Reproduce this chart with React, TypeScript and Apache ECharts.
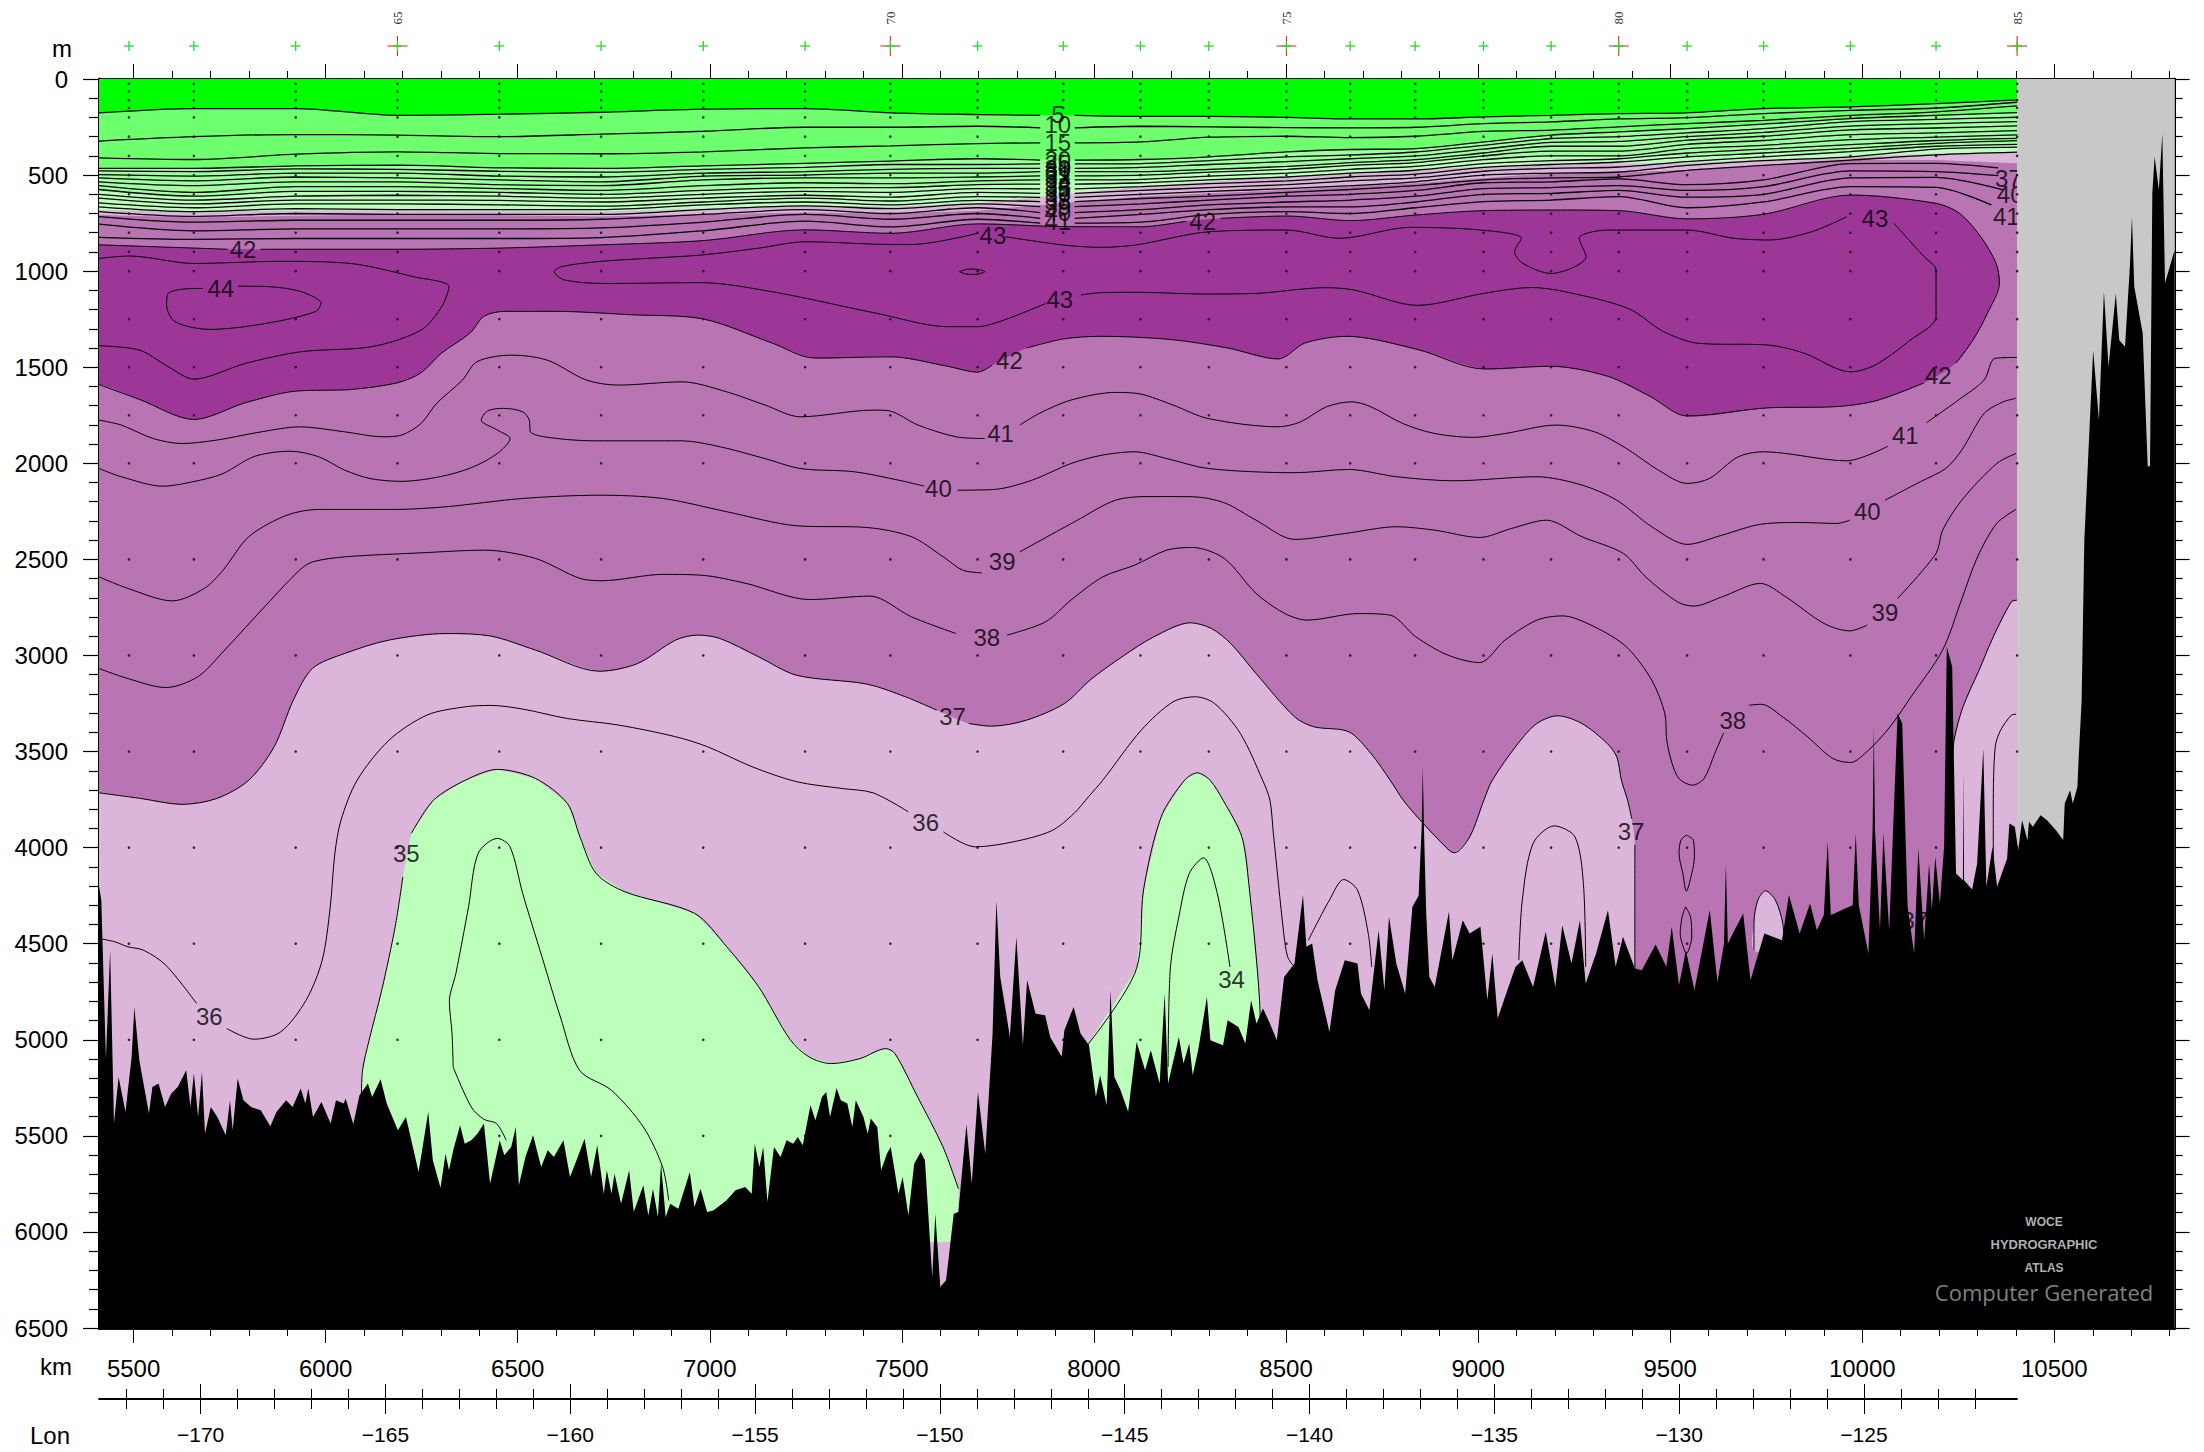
import React, { useEffect, useRef } from "react";
import * as echarts from "echarts";

type P = [number, number] | null;

const KM_MIN = 5410, KM_MAX = 10813, KM_END = 10403;
const FONT = "Liberation Sans";

const kmMajor = [5500, 6000, 6500, 7000, 7500, 8000, 8500, 9000, 9500, 10000, 10500];
const kmMinor = [5500,5600,5700,5800,5900,6000,6100,6200,6300,6400,6500,6600,6700,6800,6900,7000,7100,7200,7300,7400,7500,7600,7700,7800,7900,8000,8100,8200,8300,8400,8500,8600,8700,8800,8900,9000,9100,9200,9300,9400,9500,9600,9700,9800,9900,10000,10100,10200,10300,10400,10500,10600,10700,10800];
const lonMajor = [-170, -165, -160, -155, -150, -145, -140, -135, -130, -125];
const lonMinor = [-172,-171,-170,-169,-168,-167,-166,-165,-164,-163,-162,-161,-160,-159,-158,-157,-156,-155,-154,-153,-152,-151,-150,-149,-148,-147,-146,-145,-144,-143,-142,-141,-140,-139,-138,-137,-136,-135,-134,-133,-132,-131,-130,-129,-128,-127,-126,-125,-124,-123,-122];

const stationKm = [5488,5657,5922,6187,6452,6717,6983,7248,7470,7697,7920,8121,8299,8501,8667,8836,9014,9190,9366,9544,9743,9969,10192,10403];
const stationLabels = ["","","","65","","","","","70","","","","","75","","","","","80","","","","","85"];
const sampleDepths = [25,65,110,150,200,300,400,500,600,700,800,900,1000,1250,1500,1750,2000,2500,3000,3500,4000,4500,5000,5500,6000];

const bandKm = [5410,5657,5922,6187,6452,6717,6983,7248,7472,7697,7920,8123,8300,8502,8668,8837,9015,9190,9366,9544,9743,9969,10192,10403];
const band01 = [176,154,154,189,183,173,157,154,176,185,189,195,195,200,208,208,197,189,180,176,154,145,128,109];
const band02 = [323,300,289,292,300,287,272,251,251,246,254,246,249,253,254,251,232,223,208,201,180,163,151,121];
const band03 = [410,419,391,379,388,389,379,358,348,336,332,327,303,298,305,298,273,266,249,232,215,189,171,140];
const band04 = [465,465,452,448,462,465,452,439,427,415,422,419,405,379,367,362,327,292,275,258,235,206,189,175];
const band05 = [478,482,468,470,480,485,470,460,445,445,442,440,425,405,395,380,345,310,300,280,258,222,210,199];
const band06 = [498,505,490,490,505,510,490,482,470,465,465,460,445,430,415,400,365,330,325,300,278,245,232,222];
const band07 = [515,530,510,515,525,535,505,500,490,490,482,482,470,455,435,420,385,350,350,318,298,265,255,244];
const band08 = [535,555,535,535,550,555,525,515,515,510,504,500,485,470,450,435,400,375,375,340,320,290,280,269];
const band09 = [555,590,560,560,570,580,555,540,545,530,525,522,505,490,470,455,420,400,400,362,345,316,302,291];
const band10 = [575,610,585,585,590,600,580,565,565,550,547,540,525,510,490,475,440,425,415,385,365,342,320,309];
const band11 = [600,630,610,605,610,620,600,585,590,570,572,560,545,530,510,495,460,445,432,405,385,361,335,321];
const band12 = [620,650,630,630,632,640,620,605,615,590,595,580,565,550,530,515,480,465,458,430,405,378,350,340];
const band13 = [645,670,650,650,655,662,640,620,635,612,616,600,585,570,555,535,500,490,484,450,425,405,365,355];
const band14 = [665,690,675,680,680,680,655,640,655,632,638,622,610,590,575,555,525,515,510,475,450,422,395,381];
const band15 = [690,715,700,705,705,705,680,660,675,650,664,650,630,610,600,580,540,535,520,550,525,440,439,463];
const band16 = [716,745,735,735,735,730,705,680,700,670,695,680,655,640,630,610,570,565,555,580,560,478,482,503];
const band17 = [755,790,780,780,780,775,745,705,730,700,725,705,680,665,665,640,600,595,580,615,600,515,512,577];
const band18 = [824,835,830,830,830,825,790,740,770,730,750,745,705,690,700,670,638,630,612,670,640,560,564,655];
const band15EndKm = 10354, band16EndKm = 10354, band17EndKm = 10367, band18EndKm = 10336;

const paleGreenTop = [585,610,585,585,590,600,580,565,565,550,530,500,480,460,445,430,410,400,400,400,385,375,350,340];
const pinkTop = [682,690,685,682,685,690,675,660,665,647,600,560,535,509,490,474,455,439,439,439,419,405,388,379];
const pinkBottom = [708,720,712,705,708,716,705,695,700,685,645,612,595,578,560,543,515,491,485,474,453,422,422,439];

const contourDark: P[] = [[5410,863],[5657,880],[5745,886],null,[5830,886],[5922,886],[6187,886],[6452,880],[6717,863],[6983,841],[7248,785],[7472,803],[7697,754],[7920,768],[8123,769],[8240,740],null,[8330,725],[8502,713],[8668,737],[8837,708],[9015,685],[9190,682],[9366,685],[9544,728],[9743,704],[9969,604],[10192,647],[10253,699],[10308,820],[10348,958],[10357,1062],[10326,1218],[10289,1356],[10244,1478],null,[10161,1581],[10033,1676],[9923,1706],[9758,1711],[9544,1754],[9447,1651],[9337,1547],[9190,1495],[9015,1509],[8843,1408],[8659,1339],[8549,1374],[8480,1457],[8348,1400],[8201,1356],[8018,1339],[7920,1353],[7825,1400],null,[7735,1490],[7697,1526],[7619,1495],[7472,1446],[7271,1452],[7162,1374],[6983,1249],[6796,1227],[6595,1209],[6467,1209],[6412,1235],[6376,1322],[6302,1426],[6248,1529],[6187,1581],[6065,1616],[5919,1625],[5791,1685],[5657,1772],[5516,1668],[5410,1590]];
const contour43: P[] = [[7697,803],[7527,861],[7472,861],[7248,847],[7125,881],[6979,916],[6833,934],[6705,951],[6613,977],[6595,1003],[6622,1046],[6723,1064],[6979,1060],[7162,1107],[7436,1220],[7619,1289],[7697,1289],[7765,1255],[7875,1168],null,[7966,1124],[8017,1112],[8108,1110],[8292,1119],[8420,1116],[8603,1086],[8677,1098],[8842,1178],[9014,1116],[9139,1085],[9226,1107],[9391,1194],[9483,1315],[9575,1376],[9758,1385],[9850,1428],[9969,1524],[10033,1489],[10125,1359],[10192,1237],[10192,994],[10161,925],[10082,751],null,[9960,717],[9868,795],[9758,838],[9666,829],[9544,786],[9336,786],[9263,829],[9281,925],[9190,1012],[9117,960],[9095,899],[9113,829],[9007,786],[8823,772],[8640,829],[8501,786],[8299,795],[8108,864],[8017,876],[7920,864],[7770,821]];
const contour43Left: P[] = [[5410,934],[5489,921],[5657,960],[5882,949],[6065,960],[6229,1029],[6321,1081],[6302,1185],[6248,1307],[6120,1393],[5937,1419],[5791,1480],[5657,1562],[5590,1497],[5516,1411],[5410,1388]];
const contour44: P[] = [[5772,1078],[5855,1081],[5937,1107],[5988,1168],[5973,1211],[5845,1272],[5699,1303],[5608,1263],[5586,1176],[5590,1116],[5644,1091],[5680,1090]];
const contourEye: P[] = [[7650,1003],[7665,992],[7683,989],[7700,992],[7716,1003],[7700,1014],[7683,1017],[7665,1014],[7650,1003]];
const contour41: P[] = [[5410,1775],[5468,1801],[5551,1871],[5626,1897],[5717,1879],[5833,1836],[5932,1810],[6049,1836],[6148,1862],[6198,1853],[6248,1793],[6289,1688],[6356,1567],[6394,1471],[6485,1437],[6577,1463],[6679,1567],[6762,1593],[6928,1576],[7044,1628],[7144,1697],[7235,1758],[7426,1723],[7467,1727],[7542,1801],[7641,1862],[7716,1871],null,[7807,1801],[7857,1741],[7940,1671],[8056,1631],[8123,1640],[8206,1697],[8297,1767],[8480,1810],[8538,1784],[8605,1706],[8671,1680],[8721,1706],[8804,1793],[8887,1845],[8987,1865],[9070,1845],[9203,1801],[9303,1836],[9386,1923],[9469,2035],[9544,2105],[9602,2079],[9677,1966],[9743,1940],[9959,1987],[10067,1911],null,[10167,1789],[10250,1671],[10317,1567],[10345,1454],[10403,1449]];
const contour40: P[] = [[5410,2027],[5468,2070],[5576,2119],[5675,2087],[5733,2053],[5816,1963],[5908,1937],[5982,1966],[6049,2035],[6115,2079],[6198,2094],[6297,2070],[6380,2022],[6447,1949],[6480,1871],[6447,1827],[6405,1775],[6422,1727],[6463,1714],[6513,1732],[6530,1775],[6533,1836],[6579,1865],[6696,1883],[6928,1883],[7027,1914],[7143,1975],[7235,2027],[7376,2044],[7492,2088],[7558,2119],null,[7645,2140],[7741,2136],[7840,2087],[7940,2001],[8023,1957],[8106,1940],[8189,1975],[8297,2027],[8522,2049],[8663,2032],[8788,2070],[8937,2091],[9153,2070],[9270,2113],[9361,2192],[9452,2330],[9544,2422],[9635,2374],[9735,2317],[9835,2308],[9934,2313],[9968,2296],null,[10059,2192],[10151,2096],[10217,2027],[10259,1931],[10317,1741],[10367,1680],[10400,1662]];
const contour39: P[] = [[5410,2591],[5485,2651],[5601,2716],[5684,2651],[5733,2556],[5800,2382],[5899,2270],[5982,2240],[6181,2240],[6314,2226],[6513,2183],[6712,2166],[6878,2183],[7044,2252],[7226,2325],[7409,2334],[7525,2382],[7608,2487],[7658,2556],[7708,2570],null,[7807,2461],[7957,2296],[8056,2192],[8140,2173],[8256,2174],[8339,2205],[8422,2296],[8522,2396],[8655,2365],[8788,2330],[8887,2348],[9004,2386],[9087,2339],[9178,2296],[9270,2382],[9378,2469],[9436,2591],[9519,2721],[9561,2743],[9635,2695],[9735,2625],[9801,2695],[9901,2834],[9968,2872],[10013,2842],null,[10092,2703],[10192,2469],[10209,2348],[10259,2192],[10350,2001],[10400,1949]];
const contour38: P[] = [[5410,3068],[5485,3120],[5584,3167],[5667,3111],[5733,2981],[5833,2764],[5932,2556],[5966,2513],[6049,2487],[6248,2466],[6414,2452],[6546,2495],[6662,2599],[6720,2611],[6878,2578],[6978,2582],[7094,2625],[7260,2709],[7417,2691],[7525,2799],[7641,2886],null,[7774,2894],[7874,2825],[7940,2712],[8023,2591],[8106,2530],[8189,2452],[8256,2438],[8339,2495],[8422,2677],[8497,2782],[8555,2816],[8688,2782],[8771,2790],[8838,2903],[8921,2998],[9004,3037],[9070,2920],[9153,2816],[9220,2794],[9303,2851],[9386,2955],[9452,3129],[9486,3302],[9491,3441],[9505,3562],[9523,3641],[9558,3675],[9588,3641],[9616,3510],[9639,3403],null,[9705,3259],[9737,3254],[9793,3320],[9858,3424],[9923,3536],[9969,3557],[10016,3493],[10072,3372],[10127,3215],[10209,2972],[10258,2712],[10300,2487],[10350,2313],[10400,2240]];
const contour37: P[] = [[5410,3715],[5518,3744],[5626,3775],[5717,3744],[5800,3649],[5866,3475],[5916,3232],[5966,3067],[6049,2990],[6165,2920],[6314,2886],[6430,2899],[6546,2972],[6712,3082],[6812,3042],[6911,2920],[6969,2894],[7027,2912],[7127,3007],[7226,3103],[7409,3149],[7509,3215],[7591,3285],null,[7674,3354],[7733,3368],[7824,3337],[7923,3250],[7990,3128],[8073,3007],[8156,2903],[8251,2830],[8306,2860],[8356,2938],[8422,3094],[8522,3319],[8572,3371],[8663,3397],[8721,3510],[8771,3649],[8805,3753],[8851,3861],[8924,4013],[8938,4027],[8978,3944],[9015,3753],[9037,3649],[9104,3458],[9153,3354],[9207,3314],[9270,3354],[9336,3458],[9361,3528],[9373,3649],[9389,3753],[9400,3850],null,[9408,3985],[9408,4655]];
const contour37Right: P[] = [[10403,2712],[10388,2721],[10341,2903],[10304,3077],[10262,3268],[10239,3441],[10234,3600]];
const contour37Blob: P[] = [[9718,4534],[9718,4395],[9728,4274],[9748,4225],[9774,4274],[9793,4395],[9797,4534]];
const contour36Left: P[] = [[5410,4473],[5451,4490],[5485,4516],[5526,4534],[5584,4612],[5664,4811]];
const contour36: P[] = [[5742,4941],[5813,4997],[5883,4959],[5949,4794],[5991,4586],[6012,4308],[6024,4030],[6040,3857],[6082,3649],[6165,3441],[6264,3310],[6364,3267],[6430,3260],[6513,3279],[6629,3328],[6762,3362],[6911,3423],[6994,3475],[7110,3579],[7226,3657],[7343,3692],[7425,3715],[7517,3814],null,[7608,3918],[7691,3996],[7790,3970],[7890,3912],[7948,3822],[7986,3735],[8023,3649],[8123,3389],[8206,3241],[8264,3215],[8314,3250],[8381,3406],[8439,3649],[8458,3753],[8467,3927],[8494,4447],[8504,4568],[8518,4612]];
const contour36Hump: P[] = [[8558,4482],[8613,4273],[8650,4166],[8686,4221],[8714,4447],[8723,4621]];
const contour36Arch: P[] = [[9106,4586],[9115,4273],[9143,3979],[9198,3887],[9252,3944],[9274,4187],[9280,4620]];
const contourRightInner: P[] = [[10400,3306],[10388,3311],[10360,3389],[10346,3476],[10341,3788],[10341,4204]];
const contourDropA: P[] = [[9542,3935],[9560,3961],[9563,4048],[9556,4135],[9542,4227],[9533,4135],[9523,4031],[9528,3961],[9542,3935]];
const contourDropB: P[] = [[9540,4308],[9553,4361],[9556,4465],[9542,4551],[9531,4499],[9526,4447],[9531,4361],[9540,4308]];
const contour35: P[] = [[6093,5315],[6096,5159],[6113,5003],[6146,4742],[6181,4412],[6201,4152],null,[6223,3926],[6281,3753],[6364,3649],[6447,3593],[6546,3640],[6629,3770],[6662,3944],[6704,4134],[6779,4230],[6961,4343],[7044,4516],[7127,4724],[7209,4999],[7258,5089],[7316,5124],[7391,5098],[7458,5046],[7482,5072],[7541,5298],[7607,5558],[7647,5775]];
const contour35Lobe: P[] = [[7983,5028],[8111,4629],[8129,4221],[8175,3840],[8236,3649],[8269,3611],[8302,3649],[8336,3753],[8385,3944],[8403,4187],[8431,4794],[8434,5141]];
const contour34: P[] = [[6332,5142],[6329,4968],[6322,4800],[6339,4655],[6372,4308],[6397,4030],[6447,3952],[6480,3996],[6513,4239],[6563,4568],[6611,4881],[6661,5159],[6744,5263],[6827,5454],[6877,5662],[6893,5836]];
const contour34Tail: P[] = [[6332,5142],[6379,5350],[6412,5414],[6445,5436],[6470,5523]];
const contour34Lobe: P[] = [[8193,5141],[8199,4621],[8221,4360],[8248,4135],[8285,4053],[8321,4239],[8354,4621]];

const bathymetry: [number, number][] = [[5410,4200],[5416,4274],[5428,5100],[5439,4534],[5449,5436],[5461,5194],[5479,5376],[5495,5089],[5502,4829],[5515,5107],[5540,5384],[5549,5246],[5565,5228],[5582,5350],[5598,5280],[5615,5246],[5637,5159],[5648,5350],[5657,5176],[5668,5402],[5678,5168],[5686,5489],[5701,5350],[5718,5402],[5740,5497],[5751,5315],[5758,5471],[5771,5202],[5786,5315],[5806,5350],[5831,5367],[5856,5450],[5872,5376],[5897,5315],[5914,5350],[5935,5254],[5947,5332],[5955,5254],[5967,5402],[5989,5324],[6013,5436],[6027,5315],[6047,5332],[6052,5306],[6072,5440],[6088,5289],[6110,5228],[6121,5298],[6143,5206],[6159,5332],[6188,5471],[6209,5402],[6221,5506],[6242,5688],[6267,5376],[6279,5627],[6299,5770],[6312,5593],[6321,5679],[6332,5575],[6350,5445],[6362,5541],[6379,5523],[6395,5489],[6412,5436],[6428,5749],[6453,5523],[6465,5601],[6483,5558],[6495,5454],[6503,5757],[6520,5610],[6540,5497],[6561,5662],[6578,5575],[6594,5610],[6619,5523],[6636,5714],[6653,5627],[6674,5515],[6691,5714],[6707,5549],[6724,5801],[6732,5679],[6744,5801],[6752,5697],[6769,5853],[6790,5679],[6802,5896],[6827,5757],[6840,5914],[6852,5775],[6865,5922],[6873,5645],[6885,5922],[6897,5853],[6918,5879],[6948,5688],[6960,5870],[6976,5775],[6993,5896],[7009,5888],[7043,5836],[7067,5783],[7092,5766],[7109,5801],[7117,5541],[7129,5662],[7139,5558],[7150,5844],[7167,5558],[7184,5610],[7200,5523],[7217,5541],[7229,5506],[7242,5549],[7262,5341],[7275,5419],[7292,5298],[7303,5272],[7313,5402],[7330,5251],[7341,5315],[7358,5332],[7371,5454],[7380,5315],[7400,5402],[7411,5489],[7419,5410],[7436,5454],[7446,5679],[7461,5593],[7471,5558],[7491,5801],[7502,5714],[7517,5914],[7532,5645],[7549,5584],[7560,5627],[7579,6235],[7587,5905],[7600,6287],[7615,6252],[7635,5905],[7647,5896],[7668,5440],[7682,5749],[7698,5272],[7717,5593],[7736,4970],[7746,4274],[7756,4673],[7773,4881],[7781,4985],[7798,4465],[7815,5029],[7826,4690],[7848,4864],[7873,4873],[7886,4985],[7916,5089],[7923,4950],[7947,4829],[7965,4967],[7987,5028],[8005,5297],[8016,5184],[8033,5341],[8043,4742],[8053,5193],[8069,5262],[8089,5375],[8111,5011],[8133,5158],[8148,5054],[8171,5228],[8184,4759],[8193,5228],[8221,4985],[8233,5124],[8248,5020],[8257,5184],[8272,5046],[8294,4777],[8303,5002],[8336,5028],[8348,4898],[8376,4933],[8394,5020],[8409,4794],[8423,4915],[8440,4837],[8458,4915],[8476,5002],[8495,4673],[8522,4603],[8544,4247],[8553,4516],[8568,4499],[8582,4690],[8613,4959],[8628,4742],[8653,4586],[8686,4603],[8695,4759],[8717,4846],[8741,4430],[8756,4742],[8768,4360],[8787,4603],[8810,4759],[8829,4308],[8845,4250],[8853,3900],[8856,3580],[8859,3900],[8865,4350],[8873,4673],[8887,4725],[8924,4334],[8933,4586],[8960,4378],[8978,4447],[9006,4412],[9024,4794],[9037,4551],[9051,4889],[9070,4777],[9097,4621],[9115,4586],[9143,4725],[9176,4438],[9201,4725],[9219,4404],[9243,4603],[9265,4378],[9280,4707],[9307,4551],[9338,4326],[9358,4620],[9377,4464],[9408,4629],[9426,4638],[9462,4504],[9490,4620],[9504,4412],[9523,4716],[9541,4534],[9563,4742],[9603,4326],[9623,4699],[9640,4500],[9645,4083],[9650,4500],[9663,4447],[9690,4343],[9709,4690],[9745,4447],[9791,4482],[9809,4247],[9837,4447],[9864,4291],[9882,4430],[9900,4350],[9910,3970],[9918,4350],[9928,4343],[9955,4317],[9975,4300],[9983,3927],[9991,4300],[10016,4551],[10027,3900],[10030,3372],[10033,3900],[10046,4430],[10055,3927],[10070,4430],[10092,3302],[10104,3354],[10118,4308],[10135,4551],[10146,4005],[10161,4482],[10174,4083],[10181,4326],[10190,4048],[10202,4291],[10213,3996],[10220,2955],[10234,3059],[10244,4135],[10262,4170],[10263,3597],[10265,4170],[10286,4218],[10299,4083],[10315,3484],[10323,4204],[10339,3996],[10351,4204],[10377,4057],[10383,3875],[10397,3892],[10406,4014],[10416,3857],[10430,3962],[10434,3866],[10444,3892],[10464,3831],[10481,3857],[10504,3909],[10523,3961],[10527,3771],[10541,3701],[10548,3771],[10560,3684],[10563,3545],[10571,3233],[10578,2400],[10601,1411],[10616,1775],[10629,1107],[10641,1497],[10660,1116],[10669,1359],[10684,1393],[10697,960],[10702,717],[10708,1081],[10730,1324],[10743,2015],[10749,2015],[10755,595],[10761,404],[10772,578],[10781,283],[10788,1063],[10813,890],[10813,6500],[5410,6500]];

const labelTexts = ["42","42","42","42","43","43","43","44","41","41","40","40","39","39","38","38","37","37","36","36","35","34","37","37","40","41"];
const labelKm = [5785,8283,7780,10198,7737,7911,10033,5727,7757,10112,7595,10013,7761,10059,7721,9663,7632,9398,7562,5697,6210,8358,10137,10380,10385,10375];
const labelM = [887,740,1463,1541,812,1150,725,1090,1845,1853,2131,2252,2513,2776,2908,3337,3320,3918,3871,4881,4030,4685,4378,517,600,713];
const stackTexts = ["5","10","15","20","25","30","31","32","33","34","35","36","37","38","39","40","41"];
const stackM = [187,239,331,421,442,465,482,504,525,547,572,595,616,638,664,695,743];
const STACK_KM = 7906;

const C = {
  gray: "#C8C8C8", medium: "#B974B3", dark: "#9C3797", pink: "#DCB6DA",
  g1: "#00FF00", g2: "#6EFF6E", g3: "#9EFF9E", g4: "#BBFFBB",
};

function clean(list: P[]): [number, number][] {
  return list.filter(Boolean) as [number, number][];
}
function polygon(points: [number, number][], fill: string, z: number, smooth = 0) {
  return {
    type: "custom", coordinateSystem: "cartesian2d", xAxisIndex: 0, yAxisIndex: 0,
    clip: true, silent: true, z, data: points,
    renderItem: (p: any, api: any) =>
      p.dataIndex === 0
        ? { type: "polygon", shape: { points: points.map((q) => api.coord(q)), smooth }, style: { fill } }
        : null,
  };
}
function lines(list: P[], width = 1): any[] {
  const out: any[] = [];
  let seg: [number, number][] = [];
  const flush = () => {
    if (seg.length > 1)
      out.push({
        type: "line", xAxisIndex: 0, yAxisIndex: 0, data: seg, symbol: "none", showSymbol: false,
        smooth: 0.3, silent: true, z: 3, lineStyle: { color: "#000", width },
      });
    seg = [];
  };
  list.forEach((q) => { if (q) seg.push(q); else flush(); });
  flush();
  return out;
}
function bandLine(depths: number[], endKm?: number): P[] {
  const out: P[] = [];
  depths.forEach((m, i) => {
    if (i === 10) { out.push([7860, m], null, [7950, m]); return; }
    out.push([i === 23 && endKm ? endKm : bandKm[i], m]);
  });
  return out;
}
function bandFill(depths: number[], color: string, z: number) {
  const pts = depths.map((m, i) => [bandKm[i], m] as [number, number]);
  return polygon([[KM_MIN, 0], ...pts, [KM_END, 0]], color, z);
}
function kmAxis(position: string, values: number[], length: number, showLabel: boolean, grid = 0, min = KM_MIN, max = KM_MAX, lineWidth = 2.5) {
  return {
    type: "value", gridIndex: grid, position, min, max, scale: true,
    splitLine: { show: false },
    axisLine: { show: true, onZero: false, lineStyle: { color: "#000", width: lineWidth } },
    axisTick: { show: true, customValues: values, length, lineStyle: { color: "#000", width: 1 } },
    axisLabel: showLabel
      ? { show: true, customValues: values, fontSize: 24, color: "#000", fontFamily: FONT, margin: 28, formatter: (v: number) => String(v) }
      : { show: false },
  };
}

export default function App() {
  const ref = useRef<HTMLDivElement>(null);
  useEffect(() => {
    document.body.style.margin = "0";
    const chart = echarts.init(ref.current!, undefined, { renderer: "svg" });
    const gridLeft = 99, gridWidth = 2075.6;
    const topRowIdx = 4;

    const lonAxis = (position: string, values: number[], length: number, label: boolean) => ({
      ...kmAxis(position, values, length, false, 2, -172.75, -120.86, 1),
      axisLabel: label
        ? { show: true, customValues: values, fontSize: 21, color: "#000", fontFamily: FONT, margin: 25, formatter: (v: number) => "\u2212" + Math.abs(v) }
        : { show: false },
    });

    const series: any[] = [
      polygon([[KM_MIN, 0], [KM_MAX, 0], [KM_MAX, 6500], [KM_MIN, 6500]], C.gray, 1),
      polygon([[KM_MIN, 0], [KM_END, 0], [KM_END, 6052], [KM_MIN, 6052]], C.medium, 1),
      polygon([[5300, 863], ...clean(contourDark), [5300, 1590]], C.dark, 2, 0.3),
      polygon([...clean(contour37), [9408, 6052], [5300, 6052], [5300, 3715]], C.pink, 2, 0.3),
      polygon([...clean(contour37Right), [10234, 4308], [10450, 4308], [10450, 2712]], C.pink, 2),
      polygon(clean(contour37Blob), C.pink, 2, 0.3),
      polygon([...clean(contour35), [7647, 6052], [6093, 6052]], C.g4, 2),
      polygon([...clean(contour35Lobe), [8434, 5500], [7983, 5500]], C.g4, 2),
      bandFill(pinkBottom, C.pink, 2),
      bandFill(pinkTop, C.g4, 2),
      bandFill(paleGreenTop, C.g3, 2),
      bandFill(band04, C.g2, 2),
      bandFill(band01, C.g1, 2),
    ];
    [band01, band02, band03, band04, band05, band06, band07, band08, band09, band10, band11, band12, band13, band14]
      .forEach((b) => series.push(...lines(bandLine(b), 1.3)));
    series.push(...lines(bandLine(band15, band15EndKm), 1.3));
    series.push(...lines(bandLine(band16, band16EndKm), 1.3));
    series.push(...lines(bandLine(band17, band17EndKm), 1.3));
    series.push(...lines(bandLine(band18, band18EndKm), 1.3));
    [contourDark, contour43, contour43Left, contour44, contourEye, contour41, contour40, contour39, contour38, contour37,
      contour37Right, contour37Blob, contour36Left, contour36, contour36Hump, contour36Arch, contourRightInner, contourDropA,
      contourDropB, contour35, contour35Lobe, contour34, contour34Tail, contour34Lobe]
      .forEach((c) => series.push(...lines(c)));

    const labelData = [
      ...labelTexts.map((t, i) => ({ name: t, value: [labelKm[i], labelM[i]] })),
      ...stackTexts.map((t, i) => ({ name: t, value: [STACK_KM, stackM[i]] })),
    ];
    series.push({
      type: "scatter", xAxisIndex: 0, yAxisIndex: 0, z: 4, silent: true, symbolSize: 1,
      itemStyle: { color: "transparent" }, data: labelData,
      label: { show: true, position: "inside", formatter: "{b}", fontSize: 24, color: "#000", fontFamily: FONT },
    });
    series.push(polygon([[KM_END, 0], [KM_MAX, 0], [KM_MAX, 6500], [KM_END, 6500]], C.gray, 5));
    series.push(polygon(bathymetry, "#000", 6));
    const dots: number[][] = [];
    stationKm.forEach((k) => sampleDepths.forEach((m) => dots.push([k, m])));
    series.push({
      type: "scatter", xAxisIndex: 0, yAxisIndex: 0, z: 7, silent: true, symbolSize: 2.6,
      itemStyle: { color: "#000" }, data: dots,
    });
    series.push({
      type: "custom", coordinateSystem: "cartesian2d", xAxisIndex: topRowIdx, yAxisIndex: 2, silent: true, z: 7,
      data: stationKm.map((k) => [k, 0.5]),
      renderItem: (p: any, api: any) => {
        const [x, y] = api.coord([api.value(0), api.value(1)]);
        const label = stationLabels[p.dataIndex];
        const seg = (x1: number, y1: number, x2: number, y2: number, stroke: string, lineWidth = 1) => ({
          type: "line", shape: { x1, y1, x2, y2 }, style: { stroke, lineWidth },
        });
        const children: any[] = [];
        if (label) {
          children.push(seg(x - 10, y, x + 10, y, "#FF1010"), seg(x, y - 10, x, y + 10, "#FF1010"));
          children.push({
            type: "text", x, y: y - 28, rotation: Math.PI / 2,
            style: { text: label, fontSize: 13, fontFamily: "Liberation Serif", fill: "#333", textAlign: "center", textVerticalAlign: "middle" },
          });
        }
        children.push(seg(x - 5, y, x + 5, y, "#22DD22", 1.3), seg(x, y - 5, x, y + 5, "#22DD22", 1.3));
        return { type: "group", children };
      },
    });

    const yAxis = (position: string, major: number, minor: number, label: boolean) => ({
      type: "value", gridIndex: 0, position, inverse: true, min: 0, max: 6500, interval: 500,
      splitLine: { show: false },
      axisLine: { show: true, onZero: false, lineStyle: { color: "#000", width: 3 } },
      axisTick: { show: true, length: major, lineStyle: { color: "#000", width: 1.2 } },
      minorTick: { show: true, splitNumber: 5, length: minor, lineStyle: { color: "#000", width: 1.2 } },
      axisLabel: label
        ? { show: true, fontSize: 24, color: "#000", fontFamily: FONT, margin: 31, formatter: (v: number) => String(v) }
        : { show: false },
    });
    const hiddenY = (grid: number) => ({ type: "value", gridIndex: grid, min: 0, max: 1, show: false });

    const txt = (text: string, x: number, y: number, fontSize: number, fill: string, textAlign = "center", fontWeight = "normal", fontFamily = FONT) => ({
      type: "text", x, y, z: 100,
      style: { text, fontSize, fill, fontFamily, fontWeight, textAlign, textVerticalAlign: "middle" },
    });

    chart.setOption({
      animation: false,
      backgroundColor: "#fff",
      grid: [
        { left: gridLeft, top: 79, width: gridWidth, height: 1249 },
        { left: gridLeft, top: 31, width: gridWidth, height: 30 },
        { left: gridLeft, top: 1398, width: 1918, height: 1 },
      ],
      xAxis: [
        kmAxis("bottom", kmMajor, 15, true),
        kmAxis("bottom", kmMinor, 8, false),
        kmAxis("top", kmMajor, 15, false),
        kmAxis("top", kmMinor, 8, false),
        { type: "value", gridIndex: 1, min: KM_MIN, max: KM_MAX, show: false },
        lonAxis("bottom", lonMajor, 15, true),
        lonAxis("bottom", lonMinor, 10, false),
        lonAxis("top", lonMajor, 14, false),
        lonAxis("top", lonMinor, 9, false),
      ],
      yAxis: [yAxis("left", 16, 10, true), yAxis("right", 15, 8, false), hiddenY(1), hiddenY(2)],
      series,
      graphic: [
        txt("m", 62, 48, 24, "#000"),
        txt("km", 56, 1366, 24, "#000"),
        txt("Lon", 50, 1435, 24, "#000"),
        txt("WOCE", 2044, 1222, 12, "#B0B0B0", "center", "bold"),
        txt("HYDROGRAPHIC", 2044, 1244, 13, "#B0B0B0", "center", "bold"),
        txt("ATLAS", 2044, 1268, 12, "#B0B0B0", "center", "bold"),
        txt("Computer Generated", 2044, 1292, 22, "#808080", "center", "normal", "Open Sans"),
      ],
    });
    return () => chart.dispose();
  }, []);
  return <div ref={ref} style={{ position: "fixed", left: 0, top: 0, width: 2204, height: 1452 }} />;
}
